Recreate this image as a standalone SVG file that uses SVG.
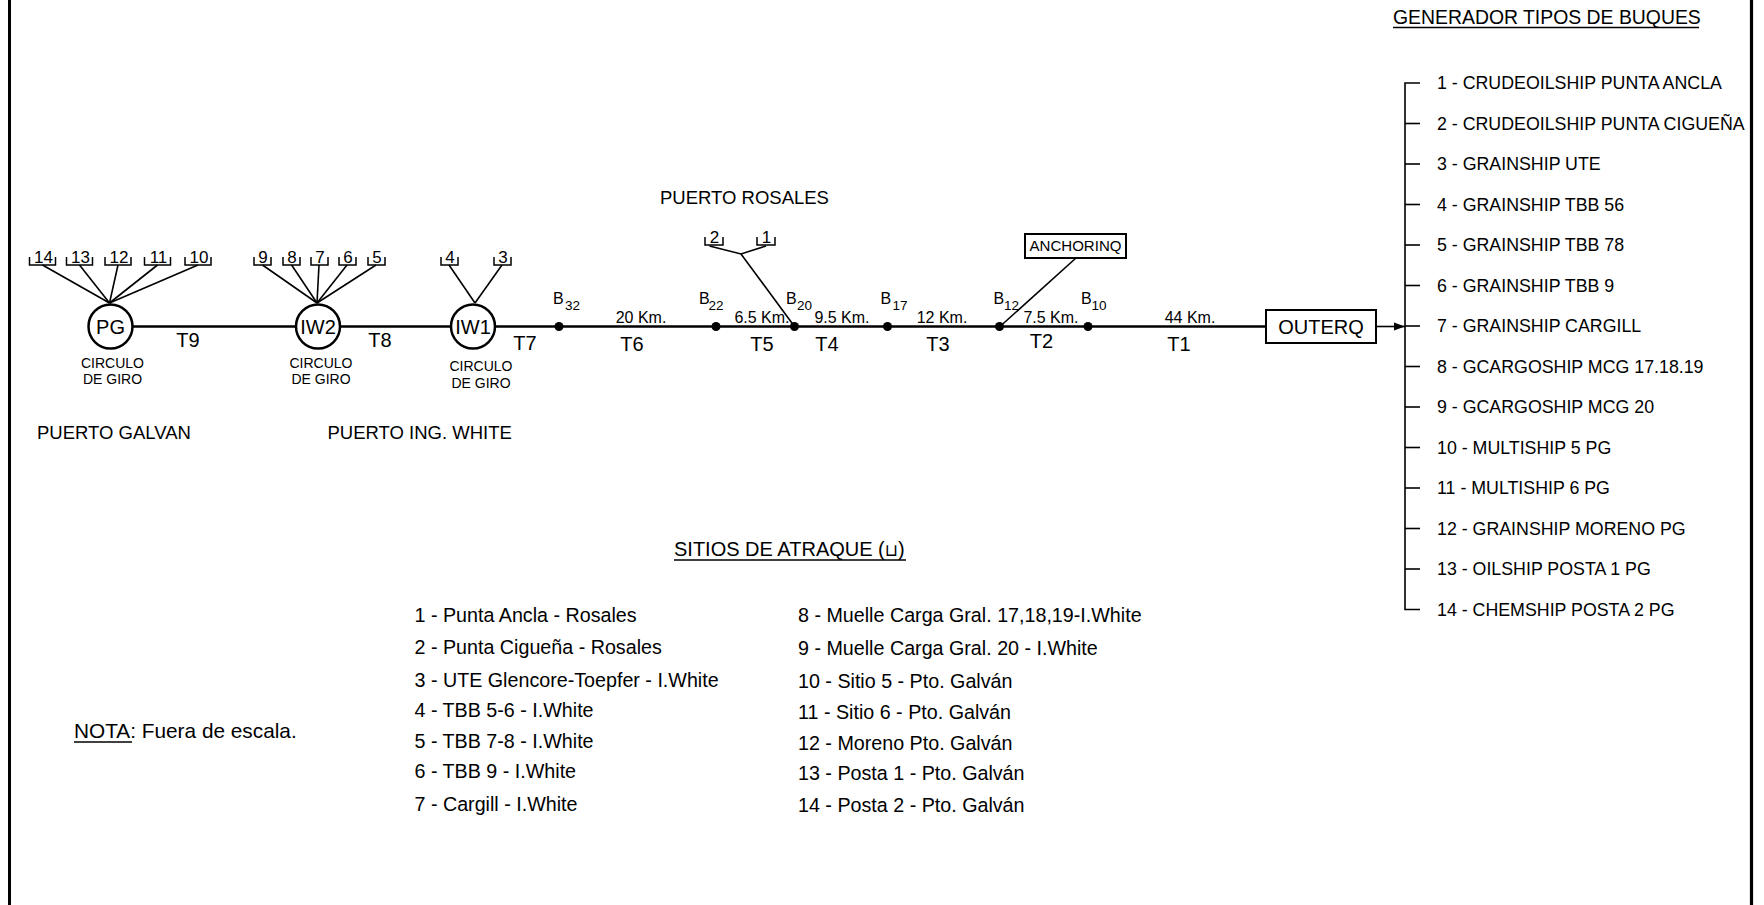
<svg xmlns="http://www.w3.org/2000/svg" width="1764" height="905" viewBox="0 0 1764 905">
<style>
text{font-family:"Liberation Sans",Arial,sans-serif;fill:#000}
.ln{stroke:#000;fill:none;stroke-width:1.6}
.main{stroke:#000;fill:none;stroke-width:2.7}
.circ{stroke:#000;fill:#fff;stroke-width:2.5}
.dot{fill:#000}
.box{stroke:#000;fill:#fff;stroke-width:2}
.brk{stroke:#000;fill:none;stroke-width:1.5}
.num{font-size:17px;text-anchor:middle}
.cg{font-size:14px;text-anchor:middle}
.tl{font-size:20px;text-anchor:middle}
.km{font-size:16px;text-anchor:middle}
.bl{font-size:16px}
.bs{font-size:13.5px}
.port{font-size:18.5px}
.lst{font-size:17.8px}
.leg{font-size:19.7px}
.nd{font-size:20px;text-anchor:middle}
</style>
<defs>
<marker id="ah" markerWidth="12" markerHeight="10" refX="11" refY="5" orient="auto" markerUnits="userSpaceOnUse">
<path d="M0,1 L11,5 L0,9 Z" fill="#000"/>
</marker>
</defs>
<rect width="1764" height="905" fill="#fff"/>
<line x1="9.5" y1="0" x2="9.5" y2="905" stroke="#000" stroke-width="3"/>
<line x1="1751.5" y1="0" x2="1751.5" y2="905" stroke="#000" stroke-width="3.2"/>

<g id="connectors">
<line class="main" x1="132.5" y1="326.5" x2="296" y2="326.5"/>
<line class="main" x1="340" y1="326.5" x2="451" y2="326.5"/>
<line class="main" x1="495" y1="326.5" x2="1267" y2="326.5"/>
<line class="ln" x1="1376" y1="326.5" x2="1405" y2="326.5" marker-end="url(#ah)"/>
<!-- PG berth lines -->
<line class="ln" x1="42.5" y1="265" x2="109.5" y2="303"/>
<line class="ln" x1="79.5" y1="265" x2="109.5" y2="303"/>
<line class="ln" x1="118" y1="265" x2="109.5" y2="303"/>
<line class="ln" x1="157.5" y1="265" x2="109.5" y2="303"/>
<line class="ln" x1="198" y1="265" x2="109.5" y2="303"/>
<!-- IW2 berth lines -->
<line class="ln" x1="262.5" y1="265" x2="317" y2="303"/>
<line class="ln" x1="291.6" y1="265" x2="317" y2="303"/>
<line class="ln" x1="319" y1="265" x2="317" y2="303"/>
<line class="ln" x1="347" y1="265" x2="317" y2="303"/>
<line class="ln" x1="376" y1="265" x2="317" y2="303"/>
<!-- IW1 berth lines -->
<line class="ln" x1="449" y1="265" x2="475" y2="303"/>
<line class="ln" x1="502" y1="265" x2="475" y2="303"/>
<!-- Rosales -->
<polyline class="ln" points="709.5,246 741,254 766,246"/>
<line class="ln" x1="741" y1="254" x2="794.5" y2="326.5"/>
<!-- Anchorinq -->
<line class="ln" x1="1076" y1="258" x2="1000" y2="326.5"/>
<!-- ship type bus -->
<path class="ln" d="M1420,83 H1405 V609.5 H1420"/>
<line class="ln" x1="1405" y1="123.5" x2="1420" y2="123.5"/>
<line class="ln" x1="1405" y1="164" x2="1420" y2="164"/>
<line class="ln" x1="1405" y1="204.5" x2="1420" y2="204.5"/>
<line class="ln" x1="1405" y1="245" x2="1420" y2="245"/>
<line class="ln" x1="1405" y1="285.5" x2="1420" y2="285.5"/>
<line class="ln" x1="1405" y1="326" x2="1420" y2="326"/>
<line class="ln" x1="1405" y1="366.5" x2="1420" y2="366.5"/>
<line class="ln" x1="1405" y1="407" x2="1420" y2="407"/>
<line class="ln" x1="1405" y1="447.5" x2="1420" y2="447.5"/>
<line class="ln" x1="1405" y1="488" x2="1420" y2="488"/>
<line class="ln" x1="1405" y1="528.5" x2="1420" y2="528.5"/>
<line class="ln" x1="1405" y1="569" x2="1420" y2="569"/>
</g>

<g id="node-PG">
<circle class="circ" cx="110.5" cy="326.5" r="22"/>
<text class="nd" x="110.5" y="333.5">PG</text>
<text class="cg" x="112.5" y="367.5">CIRCULO</text>
<text class="cg" x="112.5" y="384">DE GIRO</text>
</g>
<g id="node-IW2">
<circle class="circ" cx="318" cy="326.5" r="22"/>
<text class="nd" x="318" y="333.5">IW2</text>
<text class="cg" x="321" y="367.5">CIRCULO</text>
<text class="cg" x="321" y="384">DE GIRO</text>
</g>
<g id="node-IW1">
<circle class="circ" cx="473" cy="326.5" r="22"/>
<text class="nd" x="473" y="333.5">IW1</text>
<text class="cg" x="481" y="370.5">CIRCULO</text>
<text class="cg" x="481" y="388">DE GIRO</text>
</g>

<g id="berths-PG">
<path class="brk" d="M29.5,257 V265 H55.5 V257"/><text class="num" x="43.5" y="263">14</text>
<path class="brk" d="M66.5,257 V265 H92.5 V257"/><text class="num" x="80.5" y="263">13</text>
<path class="brk" d="M105,257 V265 H131 V257"/><text class="num" x="119" y="263">12</text>
<path class="brk" d="M144.5,257 V265 H170.5 V257"/><text class="num" x="158.5" y="263">11</text>
<path class="brk" d="M185,257 V265 H211 V257"/><text class="num" x="199" y="263">10</text>
</g>
<g id="berths-IW2">
<path class="brk" d="M254,257 V265 H271 V257"/><text class="num" x="263" y="263">9</text>
<path class="brk" d="M283,257 V265 H300 V257"/><text class="num" x="292" y="263">8</text>
<path class="brk" d="M311,257 V265 H328 V257"/><text class="num" x="320" y="263">7</text>
<path class="brk" d="M339,257 V265 H356 V257"/><text class="num" x="348" y="263">6</text>
<path class="brk" d="M368,257 V265 H385 V257"/><text class="num" x="377" y="263">5</text>
</g>
<g id="berths-IW1">
<path class="brk" d="M441,257 V265 H458 V257"/><text class="num" x="450" y="263">4</text>
<path class="brk" d="M494,257 V265 H511 V257"/><text class="num" x="503" y="263">3</text>
</g>
<g id="berths-Rosales">
<path class="brk" d="M705,237 V245 H723 V237"/><text class="num" x="714.5" y="243">2</text>
<path class="brk" d="M757,237 V245 H775 V237"/><text class="num" x="766.5" y="243">1</text>
</g>

<g id="buoys">
<g id="B32"><circle class="dot" cx="559" cy="326.5" r="4.5"/><text class="bl" x="553" y="304">B<tspan class="bs" x="565" y="310">32</tspan></text></g>
<g id="B22"><circle class="dot" cx="716" cy="326.5" r="4.5"/><text class="bl" x="699" y="304">B<tspan class="bs" x="708.5" y="310">22</tspan></text></g>
<g id="B20"><circle class="dot" cx="794.5" cy="326.5" r="4.5"/><text class="bl" x="786" y="304">B<tspan class="bs" x="797" y="310">20</tspan></text></g>
<g id="B17"><circle class="dot" cx="887.5" cy="326.5" r="4.5"/><text class="bl" x="880.5" y="304">B<tspan class="bs" x="892.5" y="310">17</tspan></text></g>
<g id="B12"><circle class="dot" cx="999.5" cy="326.5" r="4.5"/><text class="bl" x="993.5" y="304">B<tspan class="bs" x="1004" y="310">12</tspan></text></g>
<g id="B10"><circle class="dot" cx="1088" cy="326.5" r="4.5"/><text class="bl" x="1081" y="304">B<tspan class="bs" x="1091.5" y="310">10</tspan></text></g>
</g>

<g id="segment-labels">
<text class="km" x="641" y="323">20 Km.</text>
<text class="km" x="762" y="323">6.5 Km.</text>
<text class="km" x="842" y="323">9.5 Km.</text>
<text class="km" x="942" y="323">12 Km.</text>
<text class="km" x="1051" y="323">7.5 Km.</text>
<text class="km" x="1190" y="323">44 Km.</text>
<text class="tl" x="188" y="347">T9</text>
<text class="tl" x="380" y="347">T8</text>
<text class="tl" x="525" y="350">T7</text>
<text class="tl" x="632" y="351">T6</text>
<text class="tl" x="762" y="351">T5</text>
<text class="tl" x="827" y="351">T4</text>
<text class="tl" x="938" y="351">T3</text>
<text class="tl" x="1041.5" y="348">T2</text>
<text class="tl" x="1179" y="351">T1</text>
</g>

<g id="node-ANCHORINQ">
<rect class="box" x="1025" y="234" width="101" height="24" stroke-width="1.6"/>
<text x="1075.5" y="251" font-size="14.5" text-anchor="middle" textLength="92" lengthAdjust="spacingAndGlyphs">ANCHORINQ</text>
</g>
<g id="node-OUTERQ">
<rect class="box" x="1266" y="310" width="110" height="33"/>
<text x="1321" y="334" font-size="20" text-anchor="middle">OUTERQ</text>
</g>

<g id="ports">
<text class="port" x="37" y="438.5">PUERTO GALVAN</text>
<text class="port" x="327.5" y="438.5">PUERTO ING. WHITE</text>
<text class="port" x="660" y="204">PUERTO ROSALES</text>
</g>

<g id="ship-types">
<text x="1393" y="24" font-size="19.4">GENERADOR TIPOS DE BUQUES</text>
<line x1="1393" y1="27.5" x2="1699" y2="27.5" stroke="#000" stroke-width="1.5"/>
<text class="lst" x="1437" y="89">1 - CRUDEOILSHIP PUNTA ANCLA</text>
<text class="lst" x="1437" y="129.5">2 - CRUDEOILSHIP PUNTA CIGUEÑA</text>
<text class="lst" x="1437" y="170">3 - GRAINSHIP UTE</text>
<text class="lst" x="1437" y="210.5">4 - GRAINSHIP TBB 56</text>
<text class="lst" x="1437" y="251">5 - GRAINSHIP TBB 78</text>
<text class="lst" x="1437" y="291.5">6 - GRAINSHIP TBB 9</text>
<text class="lst" x="1437" y="332">7 - GRAINSHIP CARGILL</text>
<text class="lst" x="1437" y="372.5">8 - GCARGOSHIP MCG 17.18.19</text>
<text class="lst" x="1437" y="413">9 - GCARGOSHIP MCG 20</text>
<text class="lst" x="1437" y="453.5">10 - MULTISHIP 5 PG</text>
<text class="lst" x="1437" y="494">11 - MULTISHIP 6 PG</text>
<text class="lst" x="1437" y="534.5">12 - GRAINSHIP MORENO PG</text>
<text class="lst" x="1437" y="575">13 - OILSHIP POSTA 1 PG</text>
<text class="lst" x="1437" y="615.5">14 - CHEMSHIP POSTA 2 PG</text>
</g>

<g id="berth-legend">
<text x="674" y="556" font-size="20">SITIOS DE ATRAQUE (<tspan font-family="DejaVu Sans, sans-serif" font-size="17">⊔</tspan>)</text>
<line x1="674" y1="560" x2="906" y2="560" stroke="#000" stroke-width="1.5"/>
<text class="leg" x="414.5" y="621.5">1 - Punta Ancla - Rosales</text>
<text class="leg" x="414.5" y="654">2 - Punta Cigueña - Rosales</text>
<text class="leg" x="414.5" y="687">3 - UTE Glencore-Toepfer - I.White</text>
<text class="leg" x="414.5" y="717">4 - TBB 5-6 - I.White</text>
<text class="leg" x="414.5" y="747.5">5 - TBB 7-8 - I.White</text>
<text class="leg" x="414.5" y="778">6 - TBB 9 - I.White</text>
<text class="leg" x="414.5" y="810.5">7 - Cargill - I.White</text>
<text class="leg" x="798" y="622">8 - Muelle Carga Gral. 17,18,19-I.White</text>
<text class="leg" x="798" y="655">9 - Muelle Carga Gral. 20 - I.White</text>
<text class="leg" x="798" y="688">10 - Sitio 5 - Pto. Galván</text>
<text class="leg" x="798" y="718.5">11 - Sitio 6 - Pto. Galván</text>
<text class="leg" x="798" y="749.5">12 - Moreno Pto. Galván</text>
<text class="leg" x="798" y="780">13 - Posta 1 - Pto. Galván</text>
<text class="leg" x="798" y="811.5">14 - Posta 2 - Pto. Galván</text>
</g>

<g id="note">
<text x="74" y="738" font-size="20.8">NOTA: Fuera de escala.</text>
<line x1="74" y1="742" x2="132" y2="742" stroke="#000" stroke-width="1.5"/>
</g>
</svg>
